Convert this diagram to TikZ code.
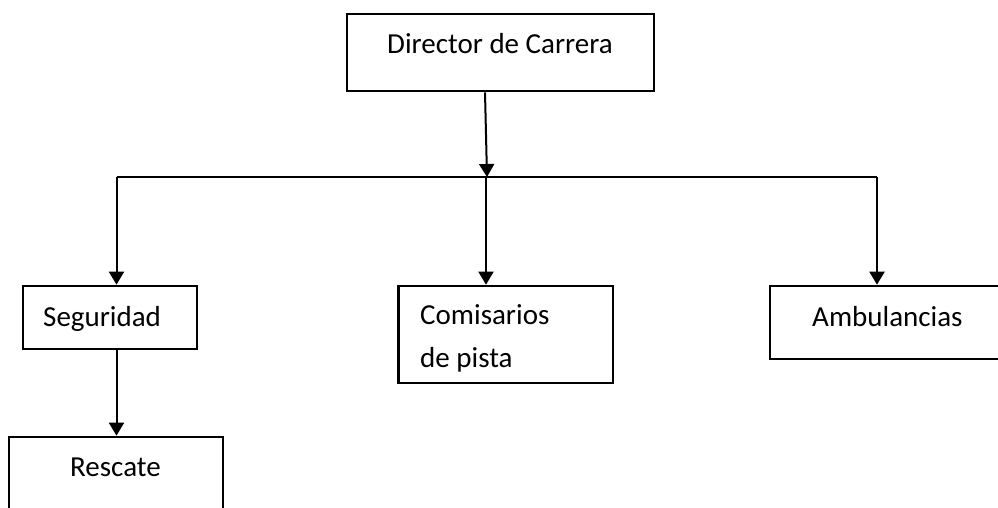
\documentclass[tikz,border=0pt]{standalone}
\usepackage{fontspec}
\setmainfont{Carlito}
\usetikzlibrary{arrows.meta}
\tikzset{
  box/.style={draw, line width=2.6pt, inner sep=0pt},
  lbl/.style={anchor=base west, inner sep=0pt, font=\fontsize{29}{43}\selectfont},
  arr/.style={line width=2pt, -{Triangle[length=13pt,width=15pt]}},
  bus/.style={line width=2.2pt}
}

\begin{document}
\begin{tikzpicture}[x=1pt, y=-1pt]
  \clip (0,0) rectangle (998,508);

  \node[box, minimum width=307pt, minimum height=77pt] (dir) at (500.5,52.5) {};
  \node[lbl] (dirtxt) at (387,53.5) {Director de Carrera};

  \node[box, minimum width=174pt, minimum height=63pt] (seg) at (110,317.5) {};
  \node[lbl] (segtxt) at (43,326) {Seguridad};

  \node[box, minimum width=214.5pt, minimum height=97pt] (com) at (505.75,334.5) {};
  \node[lbl, align=left] (comtxt) at (420,367) {Comisarios\\de pista};

  \node[box, minimum width=250pt, minimum height=73pt] (amb) at (895,322.5) {};
  \node[lbl] (ambtxt) at (812,326) {Ambulancias};

  \node[box, minimum width=214pt, minimum height=90pt] (res) at (116,482) {};
  \node[lbl] (restxt) at (70,476) {Rescate};

  % bus below the director
  \coordinate (junc) at (487,177);
  \coordinate (busL) at (116.5,177);
  \coordinate (busM) at (486,177);
  \coordinate (busR) at (877,177);

  \draw[arr] ([xshift=-15.5pt]dir.south) -- (junc);
  \draw[bus] (busL) -- (busR);
  \draw[arr] (busL) -- (busL |- seg.north);
  \draw[arr] (busM) -- (busM |- com.north);
  \draw[arr] (busR) -- (busR |- amb.north);
  \draw[arr] (busL |- seg.south) -- (busL |- res.north);
\end{tikzpicture}
\end{document}
